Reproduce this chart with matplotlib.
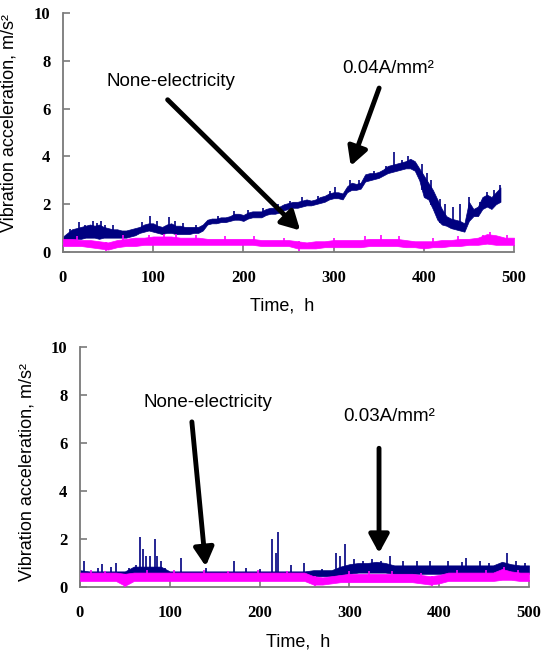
import numpy as np
import matplotlib
matplotlib.use("Agg")
import matplotlib.pyplot as plt

NAVY = "#000080"
PINK = "#ff00ff"
AXCOL = "#7a7a7a"

# ---- top panel, 0.04 A/mm2 (navy) : envelope read every 5 h ----
t_top_cur = [0, 5, 10, 15, 20, 25, 30, 35, 40, 45, 50, 55, 60, 65, 70, 75, 80, 85, 90, 95,
             100, 105, 110, 115, 120, 125, 130, 135, 140, 145, 150, 155, 160, 165, 170, 175,
             180, 185, 190, 195, 200, 205, 210, 215, 220, 225, 230, 235, 240, 245, 250, 255,
             260, 265, 270, 275, 280, 285, 290, 295, 300, 305, 310, 315, 320, 325, 330, 335,
             340, 345, 350, 355, 360, 365, 370, 375, 380, 385, 390, 395, 400, 405, 410, 415,
             420, 425, 430, 435, 440, 445, 450, 455, 460, 465, 470, 475, 480, 485]
lo_top_cur = [0.45, 0.5, 0.5, 0.55, 0.55, 0.6, 0.6, 0.6, 0.55, 0.6, 0.6, 0.6, 0.6, 0.6, 0.6, 0.65, 0.7, 0.8, 0.85, 0.9,
              0.85, 0.8, 0.75, 0.8, 0.8, 0.75, 0.75, 0.75, 0.75, 0.8, 0.8, 0.9, 1.15, 1.2, 1.2, 1.25,
              1.25, 1.3, 1.35, 1.35, 1.3, 1.4, 1.45, 1.45, 1.45, 1.55, 1.6, 1.6, 1.65, 1.75, 1.8, 1.85,
              1.85, 1.9, 1.95, 1.95, 2.0, 2.05, 2.1, 2.2, 2.25, 2.25, 2.2, 2.5, 2.6, 2.6, 2.65, 2.95,
              3.0, 3.05, 3.1, 3.2, 3.3, 3.35, 3.4, 3.45, 3.5, 3.5, 3.4, 3.0, 2.3, 2.2, 1.8, 1.35,
              1.15, 1.1, 1.0, 0.95, 0.9, 0.85, 1.3, 1.5, 1.5, 1.8, 1.9, 1.8, 2.0, 2.1]
hi_top_cur = [0.65, 0.8, 0.95, 1.0, 1.05, 1.1, 1.15, 1.1, 1.15, 1.05, 1.0, 0.95, 0.95, 0.9, 0.9, 0.95, 1.0, 1.05, 1.15, 1.2,
              1.2, 1.1, 1.05, 1.15, 1.2, 1.1, 1.1, 1.05, 1.05, 1.05, 1.05, 1.15, 1.35, 1.4, 1.4, 1.45,
              1.45, 1.5, 1.6, 1.6, 1.55, 1.65, 1.7, 1.7, 1.7, 1.8, 1.85, 1.85, 1.9, 2.0, 2.05, 2.1,
              2.1, 2.15, 2.2, 2.15, 2.2, 2.3, 2.35, 2.45, 2.5, 2.5, 2.45, 2.75, 2.9, 2.85, 2.9, 3.25,
              3.3, 3.3, 3.35, 3.45, 3.6, 3.65, 3.7, 3.75, 3.8, 3.9, 3.8, 3.5, 3.2, 2.9, 2.6, 2.2,
              1.8, 1.5, 1.4, 1.35, 1.3, 1.2, 2.1, 1.8, 1.9, 2.3, 2.4, 2.3, 2.5, 2.7]
spk_t_top_cur = [8, 18, 24, 33, 38, 42, 47, 55, 88, 97, 104, 118, 124, 133, 147, 172, 190, 205, 222,
                 238, 252, 265, 283, 296, 302, 318, 328, 345, 358, 367, 376, 383, 398, 403, 408, 418,
                 424, 432, 440, 450, 462, 470, 478, 484]
spk_v_top_cur = [0.95, 1.25, 1.15, 1.3, 1.2, 1.3, 1.15, 1.15, 1.25, 1.5, 1.3, 1.45, 1.3, 1.2, 1.15, 1.5, 1.7, 1.75, 1.85,
                 2.0, 2.15, 2.3, 2.35, 2.55, 2.7, 3.0, 3.0, 3.4, 3.6, 4.2, 3.85, 4.0, 3.7, 3.3, 3.0, 2.2,
                 2.0, 1.9, 2.0, 2.3, 2.1, 2.5, 2.6, 2.8]

# ---- top panel, none-electricity (pink) : envelope every 10 h ----
t_pink = [0, 10, 20, 30, 40, 50, 60, 70, 80, 90, 100, 110, 120, 130, 140, 150, 160, 170, 180, 190,
          200, 210, 220, 230, 240, 250, 260, 270, 280, 290, 300, 310, 320, 330, 340, 350, 360, 370,
          380, 390, 400, 410, 420, 430, 440, 450, 460, 470, 480, 490, 500]
lo_top_none = [0.25, 0.25, 0.25, 0.2, 0.15, 0.1, 0.2, 0.25, 0.25, 0.3, 0.3, 0.3, 0.3, 0.3, 0.3, 0.3, 0.3, 0.3, 0.3, 0.3,
               0.3, 0.3, 0.25, 0.25, 0.25, 0.25, 0.15, 0.15, 0.15, 0.2, 0.2, 0.2, 0.2, 0.2, 0.25, 0.25, 0.25, 0.25,
               0.2, 0.2, 0.15, 0.2, 0.2, 0.25, 0.25, 0.3, 0.3, 0.35, 0.3, 0.3, 0.3]
hi_top_none = [0.55, 0.55, 0.5, 0.5, 0.45, 0.4, 0.5, 0.55, 0.6, 0.6, 0.65, 0.65, 0.65, 0.6, 0.6, 0.6, 0.55, 0.55, 0.55, 0.55,
               0.55, 0.55, 0.5, 0.5, 0.5, 0.5, 0.45, 0.4, 0.45, 0.45, 0.5, 0.5, 0.5, 0.5, 0.55, 0.55, 0.55, 0.55,
               0.5, 0.45, 0.45, 0.45, 0.5, 0.5, 0.55, 0.55, 0.6, 0.75, 0.7, 0.6, 0.6]
spk_t_top_none = [15, 48, 66, 95, 112, 125, 148, 180, 212, 245, 262, 300, 335, 352, 372, 410, 438, 466, 473, 492]
spk_v_top_none = [0.65, 0.05, 0.7, 0.7, 0.75, 0.75, 0.7, 0.65, 0.65, 0.6, 0.05, 0.6, 0.65, 0.7, 0.65, 0.6, 0.65, 0.7, 0.85, 0.7]

# ---- bottom panel, 0.03 A/mm2 (navy) ----
t_bot = t_pink
lo_bot_cur = [0.45, 0.45, 0.45, 0.45, 0.45, 0.45, 0.5, 0.5, 0.5, 0.5, 0.45, 0.45, 0.45, 0.45, 0.45, 0.45, 0.45, 0.45, 0.45, 0.45,
              0.45, 0.45, 0.45, 0.45, 0.45, 0.45, 0.45, 0.45, 0.45, 0.5, 0.55, 0.6, 0.6, 0.6, 0.6, 0.55, 0.55, 0.55,
              0.55, 0.55, 0.55, 0.55, 0.55, 0.55, 0.55, 0.55, 0.55, 0.6, 0.55, 0.55, 0.55]
hi_bot_cur = [0.7, 0.65, 0.65, 0.65, 0.65, 0.65, 0.85, 0.85, 0.85, 0.85, 0.65, 0.65, 0.65, 0.65, 0.65, 0.65, 0.65, 0.65, 0.65, 0.65,
              0.65, 0.65, 0.65, 0.65, 0.65, 0.65, 0.7, 0.7, 0.7, 0.85, 0.95, 1.0, 1.0, 1.05, 1.0, 0.9, 0.9, 0.9,
              0.9, 0.9, 0.9, 0.9, 0.9, 0.9, 0.9, 0.9, 0.9, 1.05, 0.95, 0.9, 0.9]
spk_t_bot_cur = [4, 20, 25, 35, 40, 55, 62, 67, 70, 73, 78, 83, 86, 90, 95, 112, 140, 172, 185, 200, 214, 218,
                 221, 235, 250, 270, 285, 290, 295, 305, 315, 325, 335, 345, 360, 375, 390, 410, 425, 430,
                 445, 455, 475, 485, 495]
spk_v_bot_cur = [1.1, 0.8, 0.95, 0.85, 1.0, 0.8, 0.9, 2.1, 1.6, 1.3, 1.3, 2.0, 1.3, 1.1, 0.8, 1.2, 0.8, 1.1, 0.8, 0.75, 2.0, 1.4,
                 2.3, 0.9, 1.0, 0.75, 1.4, 1.3, 1.8, 1.15, 1.1, 1.15, 1.1, 1.3, 1.1, 1.1, 1.1, 1.1, 1.05, 1.2,
                 1.1, 1.0, 1.4, 1.1, 1.0]

# ---- bottom panel, none-electricity (pink) ----
lo_bot_none = [0.25, 0.25, 0.25, 0.25, 0.25, 0.05, 0.25, 0.25, 0.25, 0.25, 0.25, 0.25, 0.25, 0.25, 0.25, 0.25, 0.25, 0.25, 0.25, 0.25,
               0.25, 0.25, 0.25, 0.25, 0.25, 0.25, 0.1, 0.1, 0.15, 0.2, 0.2, 0.2, 0.2, 0.2, 0.2, 0.2, 0.2, 0.2,
               0.15, 0.1, 0.15, 0.25, 0.25, 0.25, 0.25, 0.25, 0.25, 0.3, 0.3, 0.25, 0.25]
hi_bot_none = [0.6, 0.6, 0.6, 0.6, 0.6, 0.55, 0.6, 0.6, 0.6, 0.6, 0.6, 0.6, 0.6, 0.6, 0.6, 0.6, 0.6, 0.6, 0.6, 0.6,
               0.6, 0.6, 0.6, 0.6, 0.6, 0.6, 0.45, 0.4, 0.45, 0.5, 0.55, 0.55, 0.55, 0.55, 0.55, 0.55, 0.55, 0.55,
               0.5, 0.45, 0.5, 0.6, 0.6, 0.6, 0.6, 0.6, 0.6, 0.75, 0.65, 0.6, 0.6]
spk_t_bot_none = [12, 28, 50, 75, 105, 138, 165, 198, 230, 262, 300, 322, 348, 380, 392, 420, 452, 472, 488]
spk_v_bot_none = [0.7, 0.65, 0.0, 0.7, 0.7, 0.7, 0.65, 0.7, 0.65, 0.05, 0.65, 0.65, 0.65, 0.6, 0.05, 0.7, 0.7, 0.85, 0.7]

plt.rcParams['font.family'] = ['Liberation Sans', 'DejaVu Sans']

fig = plt.figure(figsize=(5.43, 6.53), dpi=100)
ax_top = fig.add_axes([0.116, 0.6141, 0.8306, 0.366])
ax_bot = fig.add_axes([0.1473, 0.1011, 0.8269, 0.3675])


def band(ax, t, lo, hi, color, z):
    ax.fill_between(t, lo, hi, color=color, lw=0.5, zorder=z)


def spikes(ax, t_band, lo_band, hi_band, ts, vs, color, z):
    # spike drawn from the band edge it leaves
    lo_at = np.interp(ts, t_band, lo_band)
    hi_at = np.interp(ts, t_band, hi_band)
    vs = np.asarray(vs)
    start = np.where(vs >= hi_at, lo_at, hi_at)
    ax.vlines(ts, start, vs, color=color, lw=1.2, zorder=z)


def style(ax, ylab_y, xlab_y):
    ax.set_xlim(0, 500)
    ax.set_ylim(0, 10)
    ax.set_xticks(range(0, 501, 100))
    ax.set_yticks(range(0, 11, 2))
    for s in ['top', 'right']:
        ax.spines[s].set_visible(False)
    for s in ['left', 'bottom']:
        ax.spines[s].set_color(AXCOL)
        ax.spines[s].set_linewidth(1.3)
    ax.tick_params(axis='both', direction='in', color=AXCOL, width=1.2, length=5)
    ax.tick_params(axis='x', pad=13)
    ax.tick_params(axis='y', pad=9)
    for lab in ax.get_xticklabels() + ax.get_yticklabels():
        lab.set_family('Liberation Serif')
        lab.set_fontweight('bold')
        lab.set_fontsize(12)
    ax.set_xlabel("Time,  h", fontsize=13)
    ax.set_ylabel("Vibration acceleration, m/s²", fontsize=13)
    ax.xaxis.set_label_coords(0.485, xlab_y)
    ax.yaxis.set_label_coords(-0.1, ylab_y)


def arrow(ax, head, tail):
    ax.annotate('', xy=head, xytext=tail,
                arrowprops=dict(arrowstyle='-|>,head_length=0.55,head_width=0.3',
                                lw=3.5, color='black', shrinkA=0, shrinkB=0,
                                mutation_scale=20), zorder=6)


# top panel
band(ax_top, t_top_cur, lo_top_cur, hi_top_cur, NAVY, 2)
spikes(ax_top, t_top_cur, lo_top_cur, hi_top_cur, spk_t_top_cur, spk_v_top_cur, NAVY, 2)
band(ax_top, t_pink, lo_top_none, hi_top_none, PINK, 3)
spikes(ax_top, t_pink, lo_top_none, hi_top_none, spk_t_top_none, spk_v_top_none, PINK, 3)
style(ax_top, 0.54, -0.19)
ax_top.text(120, 7.13, "None-electricity", fontsize=13.5, ha='center', va='center')
arrow(ax_top, (263, 0.9), (116, 6.37))
ax_top.text(361, 7.69, "0.04A/mm²", fontsize=13.5, ha='center', va='center')
arrow(ax_top, (319, 3.6), (350.5, 6.86))

# bottom panel
band(ax_bot, t_bot, lo_bot_cur, hi_bot_cur, NAVY, 2)
spikes(ax_bot, t_bot, lo_bot_cur, hi_bot_cur, spk_t_bot_cur, spk_v_bot_cur, NAVY, 2)
band(ax_bot, t_bot, lo_bot_none, hi_bot_none, PINK, 3)
spikes(ax_bot, t_bot, lo_bot_none, hi_bot_none, spk_t_bot_none, spk_v_bot_none, PINK, 3)
style(ax_bot, 0.48, -0.195)
ax_bot.text(143, 7.67, "None-electricity", fontsize=13.5, ha='center', va='center')
arrow(ax_bot, (140, 0.86), (124.6, 6.88))
ax_bot.text(344.5, 7.09, "0.03A/mm²", fontsize=13.5, ha='center', va='center')
arrow(ax_bot, (333, 1.41), (333, 5.78))

fig.savefig("out.png", dpi=100)
